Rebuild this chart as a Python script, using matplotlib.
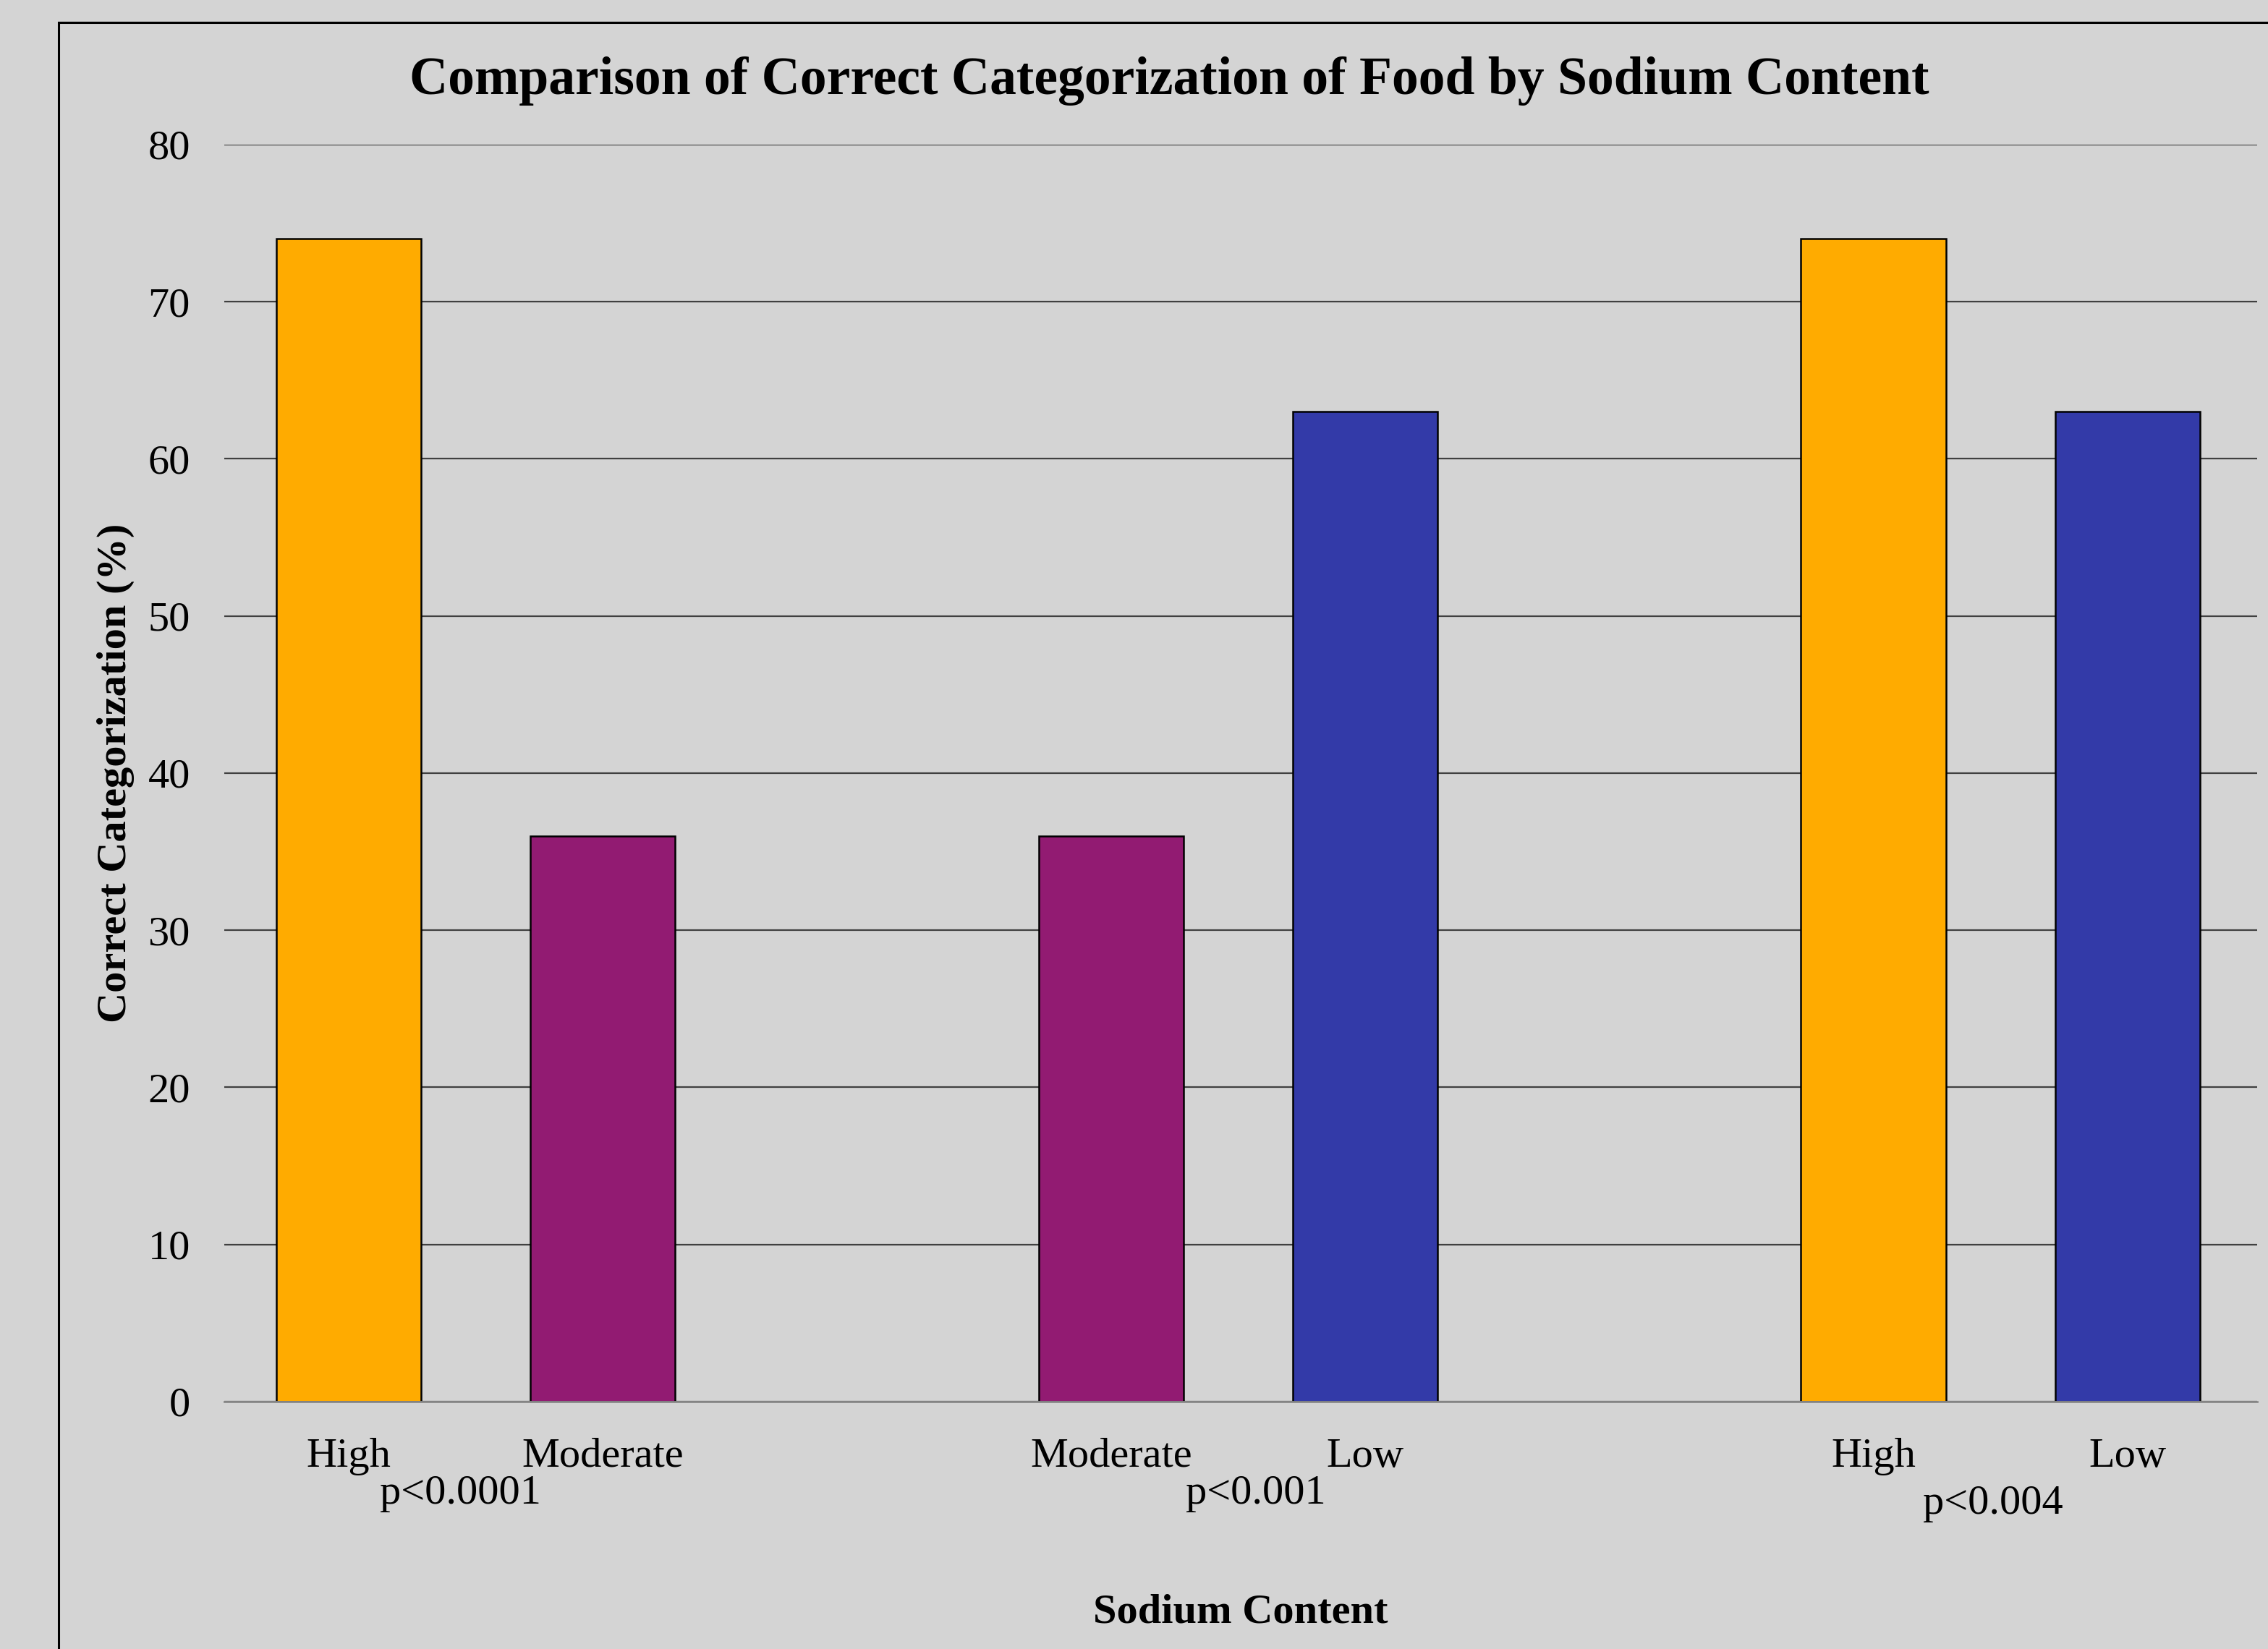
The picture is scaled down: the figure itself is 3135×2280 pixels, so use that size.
import matplotlib
matplotlib.use("Agg")
import matplotlib.pyplot as plt
from matplotlib.patches import Rectangle

# Sodium groups compared pairwise; empty slots separate the pairs
categorias = ["High", "Moderate", "Moderate", "Low", "High", "Low"]
posiciones = [0, 1, 3, 4, 6, 7]
porcentajes = [74, 36, 36, 63, 74, 63]
colores_nivel = {"High": "#FFAB00", "Moderate": "#921B72", "Low": "#333AA8"}

valores_p = ["p<0.0001", "p<0.001", "p<0.004"]
x_valores_p = [0.44, 3.57, 6.47]
y_valores_p = [-0.073, -0.073, -0.081]

fondo = "#D4D4D4"
plt.rcParams["font.family"] = ["Liberation Serif", "DejaVu Serif"]

fig = plt.figure(figsize=(31.35, 22.8), dpi=100, facecolor=fondo)
ax = fig.add_axes([0.0989, 0.15, 0.8963, 0.7623])
ax.set_facecolor(fondo)

# marco exterior (solo se ven los lados izquierdo y superior)
fig.patches.append(Rectangle((81 / 3135, -0.1), 1.2, 1 - 31 / 2280 + 0.1,
                             transform=fig.transFigure, fill=False,
                             edgecolor="black", linewidth=2.2))

ax.bar(posiciones, porcentajes, width=0.57,
       color=[colores_nivel[c] for c in categorias],
       edgecolor="black", linewidth=1.8, zorder=3)

ax.set_ylim(0, 80)
ax.set_xlim(-0.49, 7.51)
ax.set_yticks(range(0, 81, 10))
ax.yaxis.grid(True, color="#404040", linewidth=1.6, zorder=0)
for s in ["left", "right", "top"]:
    ax.spines[s].set_visible(False)
ax.spines["bottom"].set_color("#8a8a8a")
ax.spines["bottom"].set_linewidth(2)
ax.spines["bottom"].set_zorder(4)

ax.set_xticks(posiciones)
ax.set_xticklabels(categorias)
ax.tick_params(axis="both", length=0, labelsize=42)
ax.tick_params(axis="x", pad=36)
ax.tick_params(axis="y", pad=34)

for texto, xp, yp in zip(valores_p, x_valores_p, y_valores_p):
    ax.text(xp, yp, texto, transform=ax.get_xaxis_transform(),
            ha="center", va="center", fontsize=42)

ax.set_xlabel("Sodium Content", fontsize=42, fontweight="bold", va="center")
ax.xaxis.set_label_coords(0.5, -0.168)
ax.set_ylabel("Correct Categorization (%)", fontsize=42, fontweight="bold", va="center")
ax.yaxis.set_label_coords(-0.0534, 0.5)

fig.text(0.5156, 0.951, "Comparison of Correct Categorization of Food by Sodium Content",
         ha="center", va="center", fontsize=53, fontweight="bold")

fig.savefig("out.png", dpi=100, facecolor=fondo)
